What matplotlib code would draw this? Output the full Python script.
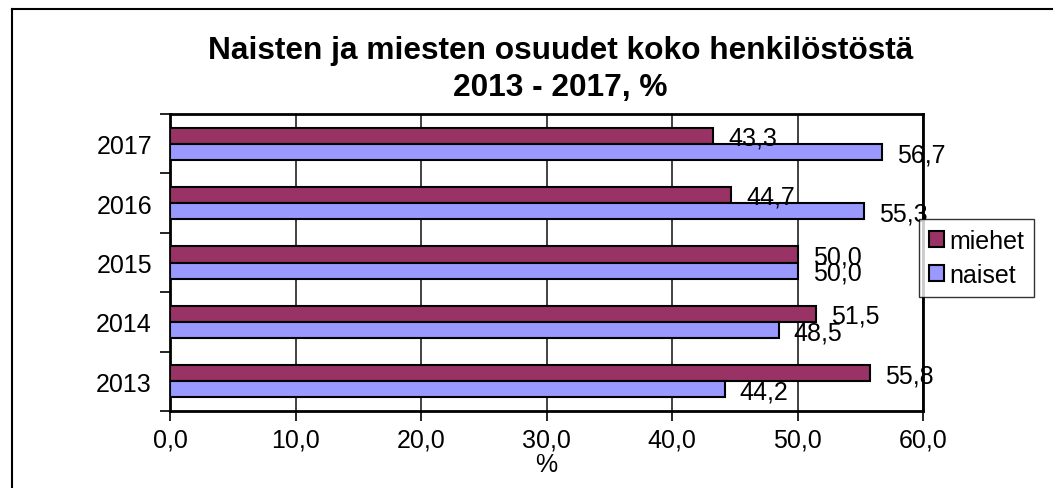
import numpy as np
import matplotlib.pyplot as plt
from matplotlib.lines import Line2D
from matplotlib.ticker import FixedLocator, FuncFormatter

plt.rcParams['font.family'] = ['Liberation Sans', 'DejaVu Sans']

# ===== Data =====
years = ['2013', '2014', '2015', '2016', '2017']
miehet = [55.8, 51.5, 50.0, 44.7, 43.3]
naiset = [44.2, 48.5, 50.0, 55.3, 56.7]

C_MIEHET = '#993366'
C_NAISET = '#9999FF'
FS = 18

fig = plt.figure(figsize=(10.53, 4.89), dpi=100)
ax = fig.add_axes([170 / 1053, 1 - 412 / 489, 753 / 1053, 297 / 489])

y = np.arange(len(years))
h = 0.27
ax.barh(y + h / 2, miehet, height=h, color=C_MIEHET, edgecolor='black',
        linewidth=1.5, label='miehet', zorder=3)
ax.barh(y - h / 2, naiset, height=h, color=C_NAISET, edgecolor='black',
        linewidth=1.5, label='naiset', zorder=3)

# data labels
for yi, m, n in zip(y, miehet, naiset):
    ax.text(m + 1.2, yi + h / 2 - 0.03, f'{m:.1f}'.replace('.', ','),
            va='center', ha='left', fontsize=FS, zorder=4)
    ax.text(n + 1.2, yi - h / 2 - 0.04, f'{n:.1f}'.replace('.', ','),
            va='center', ha='left', fontsize=FS, zorder=4)

ax.set_xlim(0, 60)
ax.set_ylim(-0.5, len(years) - 0.5)
ax.set_xticks(np.arange(0, 61, 10))
ax.xaxis.set_major_formatter(FuncFormatter(lambda v, p: f'{v:.1f}'.replace('.', ',')))
ax.set_yticks(y)
ax.set_yticklabels(years)
ax.yaxis.set_minor_locator(FixedLocator(np.arange(-0.5, len(years), 1.0)))
ax.tick_params(axis='y', which='major', length=0, pad=13, labelsize=FS)
ax.tick_params(axis='y', which='minor', length=7, width=1.2, direction='out')
ax.tick_params(axis='x', length=7, width=1.2, direction='out', labelsize=FS, pad=5)
ax.grid(axis='x', color='#333333', linewidth=1.3, zorder=0)
for s in ax.spines.values():
    s.set_linewidth(2)
    s.set_color('black')

ax.set_xlabel('%', fontsize=FS, labelpad=0)

fig.text(0.532, 0.858, 'Naisten ja miesten osuudet koko henkilöstöstä\n2013 - 2017, %',
         ha='center', va='center', fontsize=22.8, fontweight='bold', linespacing=1.3)

leg = ax.legend(loc='upper left', bbox_to_anchor=(749 / 753, 1 - 105 / 297),
                bbox_transform=ax.transAxes, fontsize=18, frameon=True, fancybox=False,
                edgecolor='black', handlelength=0.6, handleheight=0.6, handletextpad=0.2,
                borderpad=0.4, labelspacing=0.4, borderaxespad=0)
leg.get_frame().set_linewidth(1.0)

# outer chart frame (left and top)
fig.add_artist(Line2D([12 / 1053, 12 / 1053], [0, 1 - 10 / 489], color='black', linewidth=1.5))
fig.add_artist(Line2D([12 / 1053, 1], [1 - 10 / 489, 1 - 10 / 489], color='black', linewidth=1.5))

fig.savefig('out.png', dpi=100)
